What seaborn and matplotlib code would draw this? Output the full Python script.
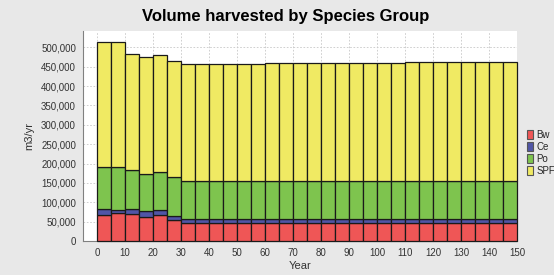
import numpy as np
import pandas as pd
import matplotlib
matplotlib.use("Agg")
import matplotlib.pyplot as plt
import seaborn as sns
from matplotlib.patches import Patch
from matplotlib.ticker import FuncFormatter, MultipleLocator

# ---- data ----
years = [0, 5, 10, 15, 20, 25, 30, 35, 40, 45, 50, 55, 60, 65, 70, 75, 80, 85, 90, 95,
         100, 105, 110, 115, 120, 125, 130, 135, 140, 145]
species = ["Bw", "Ce", "Po", "SPF"]
bw = [66000, 72000, 70500, 62000, 68000, 55000] + [46000] * 24
ce = [17500, 8000, 13000, 14700, 13000, 10500] + [9500] * 24
po = [108000, 111000, 98500, 97300, 96000, 98500] + [99000] * 24
totals = [513000, 513000, 482000, 474000, 479000, 465000] + [456000] * 6 + [458700] * 10 + [461000] * 8
spf = [t - a - b - c for t, a, b, c in zip(totals, bw, ce, po)]

colors = {"Bw": "#EF5656", "Ce": "#5055A6", "Po": "#7EC44E", "SPF": "#F0EA63"}

rows = []
for name, vals in zip(species, [bw, ce, po, spf]):
    for y, v in zip(years, vals):
        rows.append({"Year": float(y) + 2.5, "Species": name, "Volume": float(v)})
df = pd.DataFrame(rows)

sns.set_style("white")
plt.rcParams["font.family"] = ["Liberation Sans", "DejaVu Sans"]

fig = plt.figure(figsize=(5.54, 2.75), dpi=100)
fig.patch.set_facecolor("#E8E8E8")
ax = fig.add_axes([83 / 554, 1 - 241 / 275, (517 - 83) / 554, (241 - 31) / 275])
ax.set_facecolor("white")

stack_order = ["SPF", "Po", "Ce", "Bw"]  # seaborn stacks last level at bottom
sns.histplot(data=df, x="Year", weights="Volume", hue="Species", hue_order=stack_order,
             multiple="stack", binwidth=5, binrange=(0, 150), palette=colors, alpha=1,
             edgecolor="#1a1a1a", linewidth=0.9, legend=False, ax=ax, zorder=3)
for p in ax.patches:
    p.set_clip_on(False)

ax.set_xlim(-5, 150)
ax.set_ylim(0, 542000)
ax.xaxis.set_major_locator(MultipleLocator(10))
ax.yaxis.set_major_locator(MultipleLocator(50000))
ax.yaxis.set_major_formatter(FuncFormatter(lambda v, p: f"{int(v):,}"))
ax.grid(True, color="#C8C8C8", linestyle=(0, (2, 2)), linewidth=0.6, zorder=0)
ax.set_axisbelow(True)
for s in ["top", "right"]:
    ax.spines[s].set_visible(False)
for s in ["left", "bottom"]:
    ax.spines[s].set_color("#808080")
    ax.spines[s].set_linewidth(0.8)
ax.tick_params(axis="both", labelsize=7, colors="#333333", length=3, width=0.6, pad=2,
               direction="out")
ax.tick_params(axis="both", color="#808080")
ax.set_xlabel("Year", fontsize=8, color="#333333", labelpad=2)
ax.set_ylabel("m3/yr", fontsize=8, color="#333333", labelpad=5)

fig.text(286 / 554, 1 - 17 / 275, "Volume harvested by Species Group", fontsize=12,
         fontweight="bold", ha="center", va="center", color="black")

handles = [Patch(facecolor=colors[s], edgecolor="#555555", linewidth=0.8, label=s) for s in species]
fig.legend(handles=handles, loc="center left", bbox_to_anchor=(527 / 554, 1 - 153 / 275),
           frameon=False, fontsize=7, handlelength=0.6, handleheight=1.0,
           handletextpad=0.35, labelspacing=0.2, borderpad=0, borderaxespad=0)

fig.savefig("out.png", dpi=100, facecolor=fig.get_facecolor())
